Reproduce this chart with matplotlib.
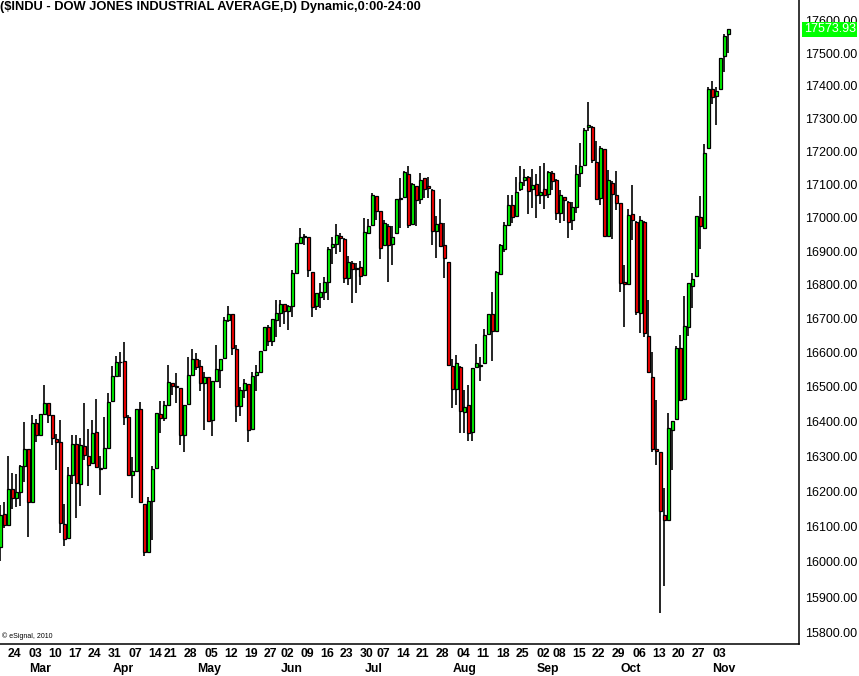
import numpy as np
import matplotlib
matplotlib.use('Agg')
import matplotlib.pyplot as plt
import matplotlib.transforms as mtrans
from matplotlib.ticker import NullLocator, FixedLocator, FixedFormatter

# daily OHLC, 20 Feb 2014 .. 07 Nov 2014 (one entry per trading day)
opens = [16040,16134,16104,16207,16180,16197,16273,16321,16170,16395,
         16360,16423,16452,16419,16350,16340,16105,16066,16245,16336,
         16220,16330,16300,16279,16369,16266,16266,16324,16458,16533,
         16574,16576,16412,16245,16257,16437,16164,16027,16172,16266,
         16423,16409,16449,16513,16502,16498,16362,16450,16535,16581,
         16560,16511,16530,16404,16518,16550,16585,16695,16715,16610,
         16446,16490,16510,16377,16534,16545,16607,16675,16634,16697,
         16718,16742,16722,16737,16836,16924,16943,16943,16837,16737,
         16765,16778,16807,16911,16920,16946,16935,16820,16866,16848,
         16853,16828,16954,16978,17066,17020,16919,16976,16921,16955,
         17056,17063,17132,16982,17096,17057,17118,17094,17082,16960,
         16985,16917,16868,16560,16493,16557,16427,16448,16369,16557,
         16565,16570,16656,16715,16665,16832,16905,16978,17039,17006,
         17086,17114,17122,17086,17101,17069,17085,17070,17133,17112,
         17014,17062,17047,16993,17031,17135,17159,17273,17273,17168,
         17059,17206,16946,17105,17068,17043,16808,16802,17011,16986,
         16716,16986,16650,16530,16321,16311,16133,16117,16374,16406,
         16614,16466,16676,16795,16825,17003,16969,17210,17389,17370,
         17390,17492,17560]
highs = [16160,16170,16300,16251,16250,16276,16398,16321,16419,16406,
         16420,16505,16452,16420,16364,16404,16163,16270,16361,16361,
         16351,16454,16377,16404,16465,16299,16413,16482,16560,16590,
         16601,16631,16418,16298,16437,16455,16164,16184,16273,16424,
         16460,16460,16564,16513,16540,16498,16448,16588,16611,16599,
         16580,16545,16530,16518,16623,16582,16704,16736,16715,16623,
         16500,16522,16510,16545,16564,16606,16676,16680,16700,16755,
         16755,16742,16740,16845,16925,16970,16950,16943,16837,16776,
         16804,16822,16911,16943,16980,16955,16940,16884,16870,16865,
         16870,16999,16995,17074,17066,17020,16994,16980,16976,17055,
         17120,17140,17155,17105,17096,17133,17120,17121,17085,17004,
         17055,16985,16868,16581,16594,16560,16490,16505,16555,16626,
         16587,16669,16713,16780,16840,16920,16987,17068,17067,17122,
         17156,17147,17125,17145,17131,17156,17166,17140,17140,17115,
         17082,17062,17050,17047,17159,17226,17270,17350,17278,17230,
         17215,17206,17144,17110,17139,17043,16858,17027,17099,16990,
         17005,16990,16755,16602,16462,16311,16208,16424,16400,16620,
         16652,16767,16805,16835,17005,17066,17222,17397,17413,17397,
         17486,17558,17575]
lows = [16001,16095,16100,16148,16155,16158,16227,16070,16170,16342,
        16360,16423,16395,16332,16260,16082,16044,16066,16220,16124,
        16158,16289,16215,16279,16267,16189,16266,16324,16457,16533,
        16529,16390,16246,16179,16257,16169,16015,16027,16060,16266,
        16368,16400,16449,16478,16454,16332,16311,16450,16534,16548,
        16487,16376,16400,16359,16518,16498,16585,16690,16593,16397,
        16415,16467,16341,16377,16488,16545,16607,16620,16620,16646,
        16676,16683,16668,16704,16836,16924,16918,16822,16704,16724,
        16731,16755,16755,16862,16891,16897,16806,16799,16747,16775,
        16799,16828,16950,16978,16994,16877,16917,16808,16860,16950,
        16970,17063,16970,16980,16975,17041,17060,17060,16919,16880,
        16912,16820,16562,16438,16448,16368,16368,16345,16345,16557,
        16518,16570,16656,16575,16665,16832,16897,16978,16985,17006,
        17081,17094,17011,17029,17000,17040,17025,17060,17083,16994,
        16985,16991,16940,16962,17014,17093,17159,17262,17166,17055,
        17037,16945,16946,16937,17023,16778,16675,16802,16934,16712,
        16658,16646,16540,16311,16274,15855,15930,16117,16260,16406,
        16462,16466,16650,16731,16825,16907,16969,17210,17343,17280,
        17390,17442,17500]
closes = [16133,16103,16207,16179,16198,16272,16321,16168,16395,16361,
          16421,16452,16419,16351,16340,16109,16065,16247,16336,16222,
          16331,16302,16276,16367,16268,16264,16323,16457,16532,16573,
          16572,16413,16246,16256,16437,16170,16026,16173,16262,16424,
          16409,16449,16514,16502,16501,16361,16447,16535,16581,16559,
          16513,16530,16402,16518,16551,16583,16695,16715,16613,16446,
          16491,16511,16374,16533,16543,16606,16675,16633,16698,16717,
          16743,16722,16738,16836,16924,16943,16945,16844,16734,16775,
          16778,16807,16906,16921,16947,16938,16820,16868,16847,16851,
          16827,16956,16976,17068,17021,16910,16985,16919,16941,17055,
          17060,17138,16977,17100,17054,17114,17086,17088,16961,16982,
          16915,16880,16563,16493,16569,16430,16443,16368,16554,16569,
          16561,16651,16713,16663,16838,16919,16979,17039,17001,17076,
          17107,17122,17079,17098,17068,17078,17069,17138,17111,17014,
          17068,17052,16988,17031,17131,17157,17266,17280,17173,17056,
          17211,16946,17113,17071,17043,16804,16801,17009,16992,16720,
          16994,16659,16544,16321,16315,16142,16117,16380,16400,16615,
          16462,16677,16805,16818,17005,16975,17195,17391,17367,17384,
          17485,17554,17574]

# first trading day of each week (bar index) and its label
week_idx = [2,7,12,17,22,27,32,37,41,46,51,56,61,66,70,75,80,85,90,94,99,104,
            109,114,119,124,129,134,138,143,148,153,158,163,168,173,178]
week_lbl = ['24','03','10','17','24','31','07','14','21','28','05','12','19','27',
            '02','09','16','23','30','07','14','21','28','04','11','18','25','02',
            '08','15','22','29','06','13','20','27','03']
month_idx = [7,28,49,70,91,113,134,155,178]
month_lbl = ['Mar','Apr','May','Jun','Jul','Aug','Sep','Oct','Nov']

price_ticks = list(range(15800, 17700, 100))
last_price = 17573.93

W, H = 859, 676
fig = plt.figure(figsize=(W/100., H/100.), dpi=100)
ax = fig.add_axes([0, 32./H, 799./W, 644./H])

o = np.array(opens, float); c = np.array(closes, float)
hi = np.array(highs, float); lo = np.array(lows, float)
x = np.arange(len(o))
up = c >= o

ax.vlines(x, lo, hi, color='black', linewidth=1.2, zorder=1)
body_lo = np.minimum(o, c)
body_h = np.maximum(np.abs(c-o), 0.5)
cols = np.where(up, '#00ff00', '#ff0000')
ax.bar(x, body_h, bottom=body_lo, width=0.78, color=cols, edgecolor='black',
       linewidth=0.9, zorder=2)

ax.set_yscale('log')
ax.set_ylim(15769, 17665)
ax.set_xlim(-0.075, 199.7)

ax.yaxis.tick_right()
ax.yaxis.set_major_locator(FixedLocator(price_ticks))
ax.yaxis.set_major_formatter(FixedFormatter(['%.2f' % p for p in price_ticks]))
ax.yaxis.set_minor_locator(NullLocator())
ax.tick_params(axis='y', length=0, pad=4.5, labelsize=9)
for t in ax.get_yticklabels():
    t.set_fontfamily('Liberation Sans')
ax.set_xticks([])

for s in ['left', 'top']:
    ax.spines[s].set_visible(False)
for s in ['right', 'bottom']:
    ax.spines[s].set_linewidth(1.1)

# last price box (covers the lower half of the 17600 label, as in the original)
ax.text(1.006, last_price, '%.2f' % last_price, transform=mtrans.blended_transform_factory(ax.transAxes, ax.transData),
        ha='left', va='center', color='white', fontsize=9, family='Liberation Sans',
        bbox=dict(boxstyle='square,pad=0.12', facecolor='#00ff00', edgecolor='none'), zorder=5)

# date axis
tr = mtrans.blended_transform_factory(ax.transData, fig.transFigure)
for i, lbl in zip(week_idx, week_lbl):
    ax.text(i - 0.05, 1 - 654./H, lbl, transform=tr, ha='left', va='center',
            fontsize=8.8, fontweight='bold', family='Liberation Sans', clip_on=False)
for i, lbl in zip(month_idx, month_lbl):
    ax.text(i + 0.1, 1 - 669./H, lbl, transform=tr, ha='left', va='center',
            fontsize=8.8, fontweight='bold', family='Liberation Sans', clip_on=False)

fig.text(0.0, 1 - 1./H, '($INDU - DOW JONES INDUSTRIAL AVERAGE,D) Dynamic,0:00-24:00',
         ha='left', va='top', fontsize=9.3, fontweight='bold', family='Liberation Sans')
fig.text(2./W, 1 - 636./H, '\u00a9 eSignal, 2010', ha='left', va='center', fontsize=5,
         family='Liberation Sans')

fig.savefig('out.png', dpi=100)
